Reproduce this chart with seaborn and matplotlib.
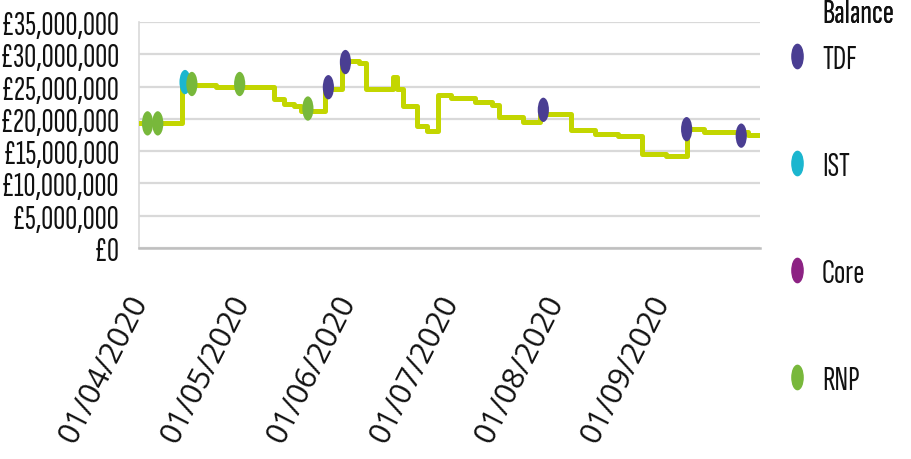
import matplotlib
matplotlib.use("Agg")
import matplotlib.pyplot as plt
import matplotlib.dates as mdates
from matplotlib.path import Path
from matplotlib.transforms import Affine2D
from matplotlib.lines import Line2D
import seaborn as sns
import pandas as pd

# Running balance (step changes), in pounds
balance_dates = ['2020-03-31', '2020-04-13', '2020-04-23', '2020-05-10', '2020-05-13',
                 '2020-05-16', '2020-05-18', '2020-05-25', '2020-05-30', '2020-06-04',
                 '2020-06-06', '2020-06-14', '2020-06-15', '2020-06-17', '2020-06-21',
                 '2020-06-24', '2020-06-27', '2020-07-01', '2020-07-08', '2020-07-13',
                 '2020-07-15', '2020-07-22', '2020-07-27', '2020-08-05', '2020-08-12',
                 '2020-08-19', '2020-08-26', '2020-09-02', '2020-09-08', '2020-09-13',
                 '2020-09-26', '2020-09-30']
balance_values = [19.3e6, 25.2e6, 24.9e6, 23.1e6, 22.3e6,
                  22.0e6, 21.2e6, 24.6e6, 29.0e6, 28.7e6,
                  24.7e6, 26.5e6, 24.7e6, 22.0e6, 18.9e6,
                  18.1e6, 23.7e6, 23.3e6, 22.6e6, 22.1e6,
                  20.3e6, 19.5e6, 20.7e6, 18.3e6, 17.6e6,
                  17.3e6, 14.6e6, 14.2e6, 18.4e6, 17.9e6,
                  17.5e6, 17.5e6]

# Funding events by source
event_dates = ['2020-04-03', '2020-04-06', '2020-04-14', '2020-04-16', '2020-04-30',
               '2020-05-20', '2020-05-26', '2020-05-31', '2020-07-28', '2020-09-08',
               '2020-09-24']
event_values = [19.3e6, 19.3e6, 25.7e6, 25.4e6, 25.4e6,
                21.6e6, 24.9e6, 28.8e6, 21.4e6, 18.4e6,
                17.4e6]
event_funds = ['RNP', 'RNP', 'IST', 'RNP', 'RNP',
               'RNP', 'TDF', 'TDF', 'TDF', 'TDF',
               'TDF']

fund_names = ['TDF', 'IST', 'Core', 'RNP']
fund_colors = ['#4a3e92', '#1bb6cf', '#8c2283', '#78b83b']
line_color = '#c3d600'

y_ticks = [0, 5e6, 10e6, 15e6, 20e6, 25e6, 30e6, 35e6]

sns.set_theme(style="white")
plt.rcParams['font.family'] = ['Sofia Sans Extra Condensed', 'DejaVu Sans']
plt.rcParams['text.color'] = '#111111'
plt.rcParams['ytick.color'] = '#111111'
plt.rcParams['xtick.color'] = '#111111'

fig = plt.figure(figsize=(9.12, 4.60), dpi=100)
ax = fig.add_axes([139 / 912, 1 - 249 / 460, (760 - 139) / 912, (249 - 23) / 460])

bal = pd.DataFrame({'date': pd.to_datetime(balance_dates), 'balance': balance_values})
ev = pd.DataFrame({'date': pd.to_datetime(event_dates), 'value': event_values,
                   'fund': event_funds})

sns.lineplot(data=bal, x='date', y='balance', ax=ax, color=line_color,
             linewidth=3.6, drawstyle='steps-post', zorder=3)

ellipse = Path(Affine2D().scale(0.46, 1.0).transform(Path.unit_circle().vertices),
               Path.unit_circle().codes)
palette = dict(zip(fund_names, fund_colors))
sns.scatterplot(data=ev, x='date', y='value', hue='fund', palette=palette,
                marker=ellipse, s=17.5 ** 2, linewidth=0, legend=False, ax=ax, zorder=4)

ax.set_xlim(pd.Timestamp('2020-03-31 12:00'), pd.Timestamp('2020-09-29 12:00'))
ax.set_ylim(0, 35e6)
ax.set_yticks(y_ticks)
ax.set_yticklabels([f'£{v:,.0f}' for v in y_ticks], fontsize=24)
ax.yaxis.grid(True, color='#d9d9d9', linewidth=1.6)
ax.xaxis.grid(False)
ax.set_xlabel('')
ax.set_ylabel('')

ax.xaxis.set_major_locator(mdates.MonthLocator(bymonthday=1))
ax.xaxis.set_major_formatter(mdates.DateFormatter('%d/%m/%Y'))
ax.tick_params(axis='x', length=0, pad=35, labelrotation=63, labelsize=22,
               labelfontfamily='Open Sans')
plt.setp(ax.get_xticklabels(), ha='right', va='center', rotation_mode='anchor')
ax.tick_params(axis='y', length=0, pad=14)

for side in ['top', 'right']:
    ax.spines[side].set_visible(False)
ax.spines['left'].set_color('#d9d9d9')
ax.spines['left'].set_linewidth(1.2)
ax.spines['bottom'].set_color('#bfbfbf')
ax.spines['bottom'].set_linewidth(1.8)

# Legend: series title, then the funding sources
title_leg = fig.legend([Line2D([], [], linestyle='none')], ['Balance'],
                       loc='center left', bbox_to_anchor=(782 / 912, 1 - 14 / 460),
                       frameon=False, fontsize=24, handlelength=0.92,
                       handletextpad=0.28, borderpad=0, borderaxespad=0)
handles = [Line2D([], [], marker=ellipse, color=c, linestyle='none', markersize=17.5)
           for c in fund_colors]
leg = fig.legend(handles, fund_names, loc='upper left',
                 bbox_to_anchor=(782 / 912, 1 - 45 / 460), frameon=False,
                 fontsize=24, handlelength=0.92, handletextpad=0.28,
                 labelspacing=2.31, borderpad=0, borderaxespad=0)
fig.add_artist(title_leg)

fig.savefig('out.png', dpi=100)
